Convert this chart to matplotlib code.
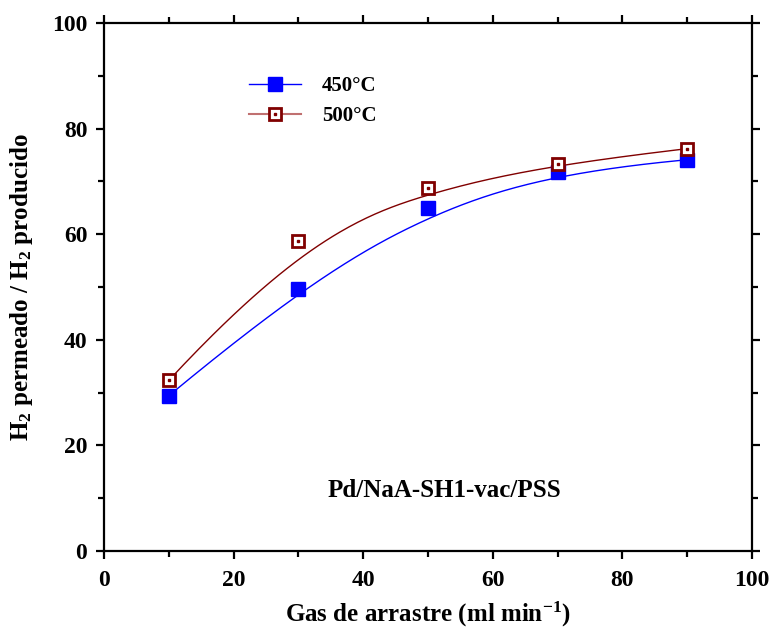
import numpy as np
import matplotlib
matplotlib.use("Agg")
import matplotlib.pyplot as plt
from matplotlib.lines import Line2D
from matplotlib.legend_handler import HandlerTuple

# datos
gas = [10, 30, 50, 70, 90]
h2_450 = [29.4, 49.7, 65.0, 71.8, 74.1]
h2_500 = [32.3, 58.7, 68.8, 73.3, 76.2]
etiquetas = ["450°C", "500°C"]

plt.rcParams['font.family'] = ['Liberation Serif', 'DejaVu Serif']
plt.rcParams['font.weight'] = 'bold'
plt.rcParams['mathtext.fontset'] = 'custom'
plt.rcParams['mathtext.rm'] = 'Liberation Serif:bold'
plt.rcParams['mathtext.default'] = 'rm'


def bspline(xs, ys, n=200):
    # B-spline cubica sujeta (como Origin), puntos como control
    P = np.column_stack([xs, ys]).astype(float)
    k = 3
    m = len(P)
    t = np.concatenate([[0] * k, np.arange(m - k + 1), [m - k] * k]).astype(float)
    us = np.linspace(0, m - k, n)
    out = []
    for u in us:
        # de Boor
        j = np.searchsorted(t, u, side='right') - 1
        j = min(j, m - 1)
        d = [P[j - k + r].copy() for r in range(k + 1)]
        for r in range(1, k + 1):
            for i in range(k, r - 1, -1):
                a_den = t[i + 1 + j - r] - t[i + j - k]
                a = 0 if a_den == 0 else (u - t[i + j - k]) / a_den
                d[i] = (1 - a) * d[i - 1] + a * d[i]
        out.append(d[k])
    out = np.array(out)
    return out[:, 0], out[:, 1]


fig = plt.figure(figsize=(7.7, 6.3), dpi=100)
ax = fig.add_axes([0.135, 0.1254, 0.8416, 0.8381])

azul = '#0000ff'
rojo = '#800000'

bx, by = bspline(gas, h2_450)
ax.plot(bx, by, color=azul, lw=1)
bx, by = bspline(gas, h2_500)
ax.plot(bx, by, color=rojo, lw=1)

ax.plot(gas, h2_450, ls='none', marker='s', ms=10, mfc=azul, mec=azul)
ax.plot(gas, h2_500, ls='none', marker='s', ms=9, mfc='white', mec=rojo, mew=2)
ax.plot(gas, h2_500, ls='none', marker='s', ms=2, mfc=rojo, mec=rojo)

h1 = (Line2D([], [], color=azul, lw=1, marker='s', ms=10, mfc=azul, mec=azul),)
h2 = (Line2D([], [], color='#c07070', lw=1.5, marker='s', ms=9, mfc='white', mec=rojo, mew=2),
      Line2D([], [], ls='none', marker='s', ms=2, mfc=rojo, mec=rojo))
ax.legend([h1, h2], etiquetas, handler_map={tuple: HandlerTuple(ndivide=1, pad=0)},
          loc='upper left', bbox_to_anchor=(0.195, 0.935), frameon=False,
          fontsize=15, handlelength=2.5, handletextpad=1.0, labelspacing=0.5)

ax.text(52.5, 11.5, "Pd/NaA-SH1-vac/PSS", ha='center', va='center', fontsize=18, fontweight='bold')

ax.set_xlim(0, 100)
ax.set_ylim(0, 100)
ax.set_xticks(np.arange(0, 101, 20))
ax.set_yticks(np.arange(0, 101, 20))
ax.set_xticks(np.arange(10, 100, 20), minor=True)
ax.set_yticks(np.arange(10, 100, 20), minor=True)

for s in ax.spines.values():
    s.set_linewidth(1.6)
ax.tick_params(which='major', direction='out', length=6, width=1.6, labelsize=17,
               top=True, right=True, pad=6)
ax.tick_params(which='minor', direction='out', length=4, width=1.6, top=True, right=True)
ax.tick_params(which='both', top=True, right=True, labeltop=False, labelright=False)
ax.tick_params(axis='x', which='major', pad=8)
for lab in ax.get_xticklabels() + ax.get_yticklabels():
    lab.set_fontweight('bold')

ax.set_xlabel("Gas de arrastre (ml min$^{-1}$)", fontsize=18, fontweight='bold', labelpad=6)
ax.set_ylabel("H$_2$ permeado / H$_2$ producido", fontsize=18, fontweight='bold', labelpad=12)

fig.savefig("out.png", dpi=100)
